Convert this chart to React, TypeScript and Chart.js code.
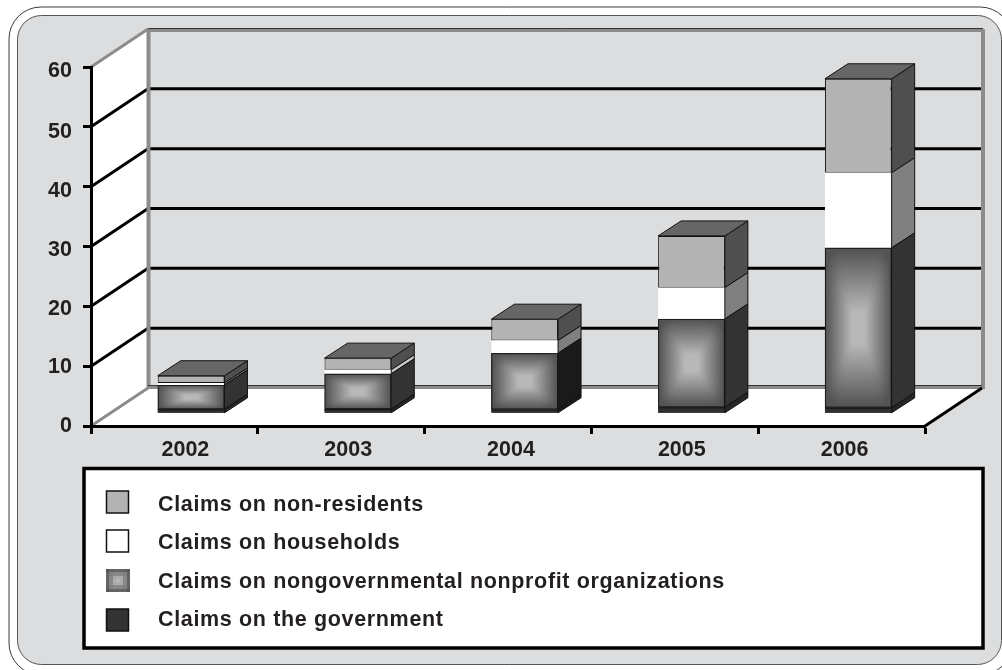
import React, { useEffect, useRef } from "react";
import { Chart, registerables } from "chart.js";

Chart.register(...registerables);

const years = ["2002", "2003", "2004", "2005", "2006"];
const government = [0.67, 0.7, 0.65, 1.0, 0.95];
const nongovernmental = [4.06, 5.9, 9.4, 14.77, 26.7];
const households = [0.33, 0.67, 2.1, 5.23, 12.54];
const nonResidents = [1.22, 1.95, 3.58, 8.65, 15.72];
const yTickMax = 60;
const yTickStep = 10;

const FONT = '"Liberation Sans", Arial, sans-serif';
const TEXT = "#231f20";
const PANEL = "#dcddde";

// 3D projection offsets, in pixels
const WALL_DX = 57;
const WALL_DY = -38;
const BAR_SHIFT_X = 16.7;
const BAR_SHIFT_Y = -12.7;
const BAR_DX = 23;
const BAR_DY = -15;

// small per-label nudges of the axis labels, in pixels
const xLabelNudge = [5, 1, -3, 1, -3];
const yLabelNudge = [0.3, 1, 2.6, 3.6, 4.6, 4.8, 3.8];

const sideColors = [
  ["#262626", "#262626", "#1a1a1a", "#262626", "#262626"],
  ["#333333", "#333333", "#1a1a1a", "#333333", "#333333"],
  ["#808080", "#c8c8c8", "#808080", "#808080", "#808080"],
  ["#4f4f4f", "#4f4f4f", "#4f4f4f", "#4f4f4f", "#4f4f4f"],
];

function boxGradient(w: number, h: number): HTMLCanvasElement {
  const c = document.createElement("canvas");
  c.width = Math.max(1, Math.round(w));
  c.height = Math.max(1, Math.round(h));
  const g = c.getContext("2d")!;
  const img = g.createImageData(c.width, c.height);
  for (let j = 0; j < c.height; j++) {
    for (let i = 0; i < c.width; i++) {
      const tx = Math.abs((i + 0.5) / c.width - 0.5) * 2;
      const ty = Math.abs((j + 0.5) / c.height - 0.5) * 2;
      const t = Math.min(1, Math.pow(Math.pow(tx, 6) + Math.pow(ty, 6), 1 / 6));
      const s = Math.min(1, Math.max(0, (t - 0.2) / 0.78));
      const v = Math.round(184 + (84 - 184) * s);
      const k = (j * c.width + i) * 4;
      img.data[k] = v;
      img.data[k + 1] = v;
      img.data[k + 2] = v;
      img.data[k + 3] = 255;
    }
  }
  g.putImageData(img, 0, 0);
  return c;
}

function roundRectPath(ctx: CanvasRenderingContext2D, x: number, y: number, w: number, h: number, r: number) {
  ctx.beginPath();
  ctx.roundRect(x, y, w, h, r);
}

function line(ctx: CanvasRenderingContext2D, x1: number, y1: number, x2: number, y2: number, color: string, width: number) {
  ctx.strokeStyle = color;
  ctx.lineWidth = width;
  ctx.lineCap = "butt";
  ctx.beginPath();
  ctx.moveTo(x1, y1);
  ctx.lineTo(x2, y2);
  ctx.stroke();
}

function poly(ctx: CanvasRenderingContext2D, pts: number[][], fill: string, stroke?: string) {
  ctx.beginPath();
  pts.forEach((p, i) => (i ? ctx.lineTo(p[0], p[1]) : ctx.moveTo(p[0], p[1])));
  ctx.closePath();
  ctx.fillStyle = fill;
  ctx.fill();
  if (stroke) {
    ctx.strokeStyle = stroke;
    ctx.lineWidth = 1;
    ctx.stroke();
  }
}

function nudgeLabels(scale: any, nudges: number[], axis: 0 | 1) {
  scale.getLabelItems().forEach((item: any, i: number) => {
    if (item.__nudged) return;
    item.__nudged = true;
    item.options.translation[axis] += nudges[i] || 0;
  });
}

const scenePlugin = {
  id: "scene",
  beforeDraw(chart: any) {
    const ctx: CanvasRenderingContext2D = chart.ctx;
    const { x, y } = chart.scales;
    nudgeLabels(x, xLabelNudge, 0);
    nudgeLabels(y, yLabelNudge, 1);
    const left = x.left;
    const right = x.right;
    const y0 = y.getPixelForValue(0);
    const yTop = y.getPixelForValue(yTickMax);

    ctx.save();
    ctx.fillStyle = "#ffffff";
    ctx.fillRect(0, 0, chart.width, chart.height);

    // rounded frame
    roundRectPath(ctx, 9, 7, 1003, 668, 32);
    ctx.strokeStyle = "#3a3a3a";
    ctx.lineWidth = 1;
    ctx.stroke();
    roundRectPath(ctx, 17.5, 15.5, 984, 649, 24);
    ctx.fillStyle = PANEL;
    ctx.fill();
    ctx.strokeStyle = "#555555";
    ctx.lineWidth = 1;
    ctx.stroke();

    // side wall and floor
    poly(ctx, [[left, yTop], [left + WALL_DX, yTop + WALL_DY], [left + WALL_DX, y0 + WALL_DY], [left, y0]], "#ffffff");
    poly(ctx, [[left, y0], [left + WALL_DX, y0 + WALL_DY], [right + WALL_DX, y0 + WALL_DY], [right, y0]], "#ffffff");

    // gridlines on the walls
    for (let v = yTickStep; v < yTickMax; v += yTickStep) {
      const p = y.getPixelForValue(v);
      line(ctx, left, p, left + WALL_DX, p + WALL_DY, "#000000", 3);
      line(ctx, left + WALL_DX, p + WALL_DY, right + WALL_DX, p + WALL_DY, "#000000", 3);
    }

    // wall edges
    const grey = "#8c8c8c";
    line(ctx, left, yTop, left + WALL_DX, yTop + WALL_DY, grey, 3);
    line(ctx, left, y0, left + WALL_DX, y0 + WALL_DY, grey, 3);
    line(ctx, left + WALL_DX + 0.5, yTop + WALL_DY, left + WALL_DX + 0.5, y0 + WALL_DY, grey, 4);
    line(ctx, right + WALL_DX + 1, yTop + WALL_DY, right + WALL_DX + 1, y0 + WALL_DY + 1, grey, 4);
    line(ctx, left + WALL_DX, yTop + WALL_DY + 1.5, right + WALL_DX + 3, yTop + WALL_DY + 1.5, grey, 3);
    line(ctx, left + WALL_DX, y0 + WALL_DY - 0.5, right + WALL_DX + 3, y0 + WALL_DY - 0.5, grey, 3);
    line(ctx, left + WALL_DX, yTop + WALL_DY - 0.5, right + WALL_DX + 1, yTop + WALL_DY - 0.5, "#333333", 1);
    line(ctx, left + WALL_DX, y0 + WALL_DY - 2.5, right + WALL_DX, y0 + WALL_DY - 2.5, "#333333", 1);
    line(ctx, right, y0, right + WALL_DX, y0 + WALL_DY, "#000000", 3);

    // legend
    ctx.fillStyle = "#ffffff";
    ctx.fillRect(84, 468.5, 899, 179.5);
    ctx.strokeStyle = "#000000";
    ctx.lineWidth = 3.5;
    ctx.strokeRect(84, 468.5, 899, 179.5);
    const datasets = chart.data.datasets;
    const swatchRows = [502, 541, 580.5, 620];
    const textRows = [505, 543, 582, 620.5];
    const order = [3, 2, 1, 0];
    ctx.font = `bold 21.5px ${FONT}`;
    (ctx as any).letterSpacing = "0.65px";
    ctx.textBaseline = "middle";
    ctx.textAlign = "left";
    order.forEach((di, r) => {
      const d = datasets[di];
      const sy = swatchRows[r] - 11.5;
      if (di === 1) {
        ctx.imageSmoothingEnabled = false;
        ctx.drawImage(boxGradient(7, 7), 106, sy, 24, 23);
        ctx.imageSmoothingEnabled = true;
      } else {
        ctx.fillStyle = d.backgroundColor;
        ctx.fillRect(106.5, sy + 0.5, 22, 22);
        ctx.strokeStyle = "#111111";
        ctx.lineWidth = 1.5;
        ctx.strokeRect(106.5, sy + 0.5, 22, 22);
      }
      ctx.fillStyle = TEXT;
      ctx.fillText(d.label, 158, textRows[r]);
    });
    (ctx as any).letterSpacing = "0px";
    ctx.restore();
  },
  beforeDatasetsDraw(chart: any) {
    chart.ctx.save();
    chart.ctx.translate(BAR_SHIFT_X, BAR_SHIFT_Y);
  },
  afterDatasetDraw(chart: any, args: any) {
    const ctx: CanvasRenderingContext2D = chart.ctx;
    const di = args.index;
    const meta = chart.getDatasetMeta(di);
    meta.data.forEach((bar: any, i: number) => {
      const b = bar.getProps(["x", "y", "base", "width"], true);
      const l = b.x - b.width / 2;
      const r = b.x + b.width / 2;
      if (di === 1) {
        ctx.drawImage(boxGradient(r - l, b.base - b.y), l, b.y, r - l, b.base - b.y);
        ctx.strokeStyle = "#1a1a1a";
        ctx.lineWidth = 1;
        ctx.strokeRect(l + 0.5, b.y + 0.5, r - l - 1, b.base - b.y - 1);
      }
      if (di === 0) {
        ctx.fillStyle = "#303030";
        ctx.fillRect(l, b.y, r - l, b.base - b.y);
        line(ctx, l, b.y + 0.5, r, b.y + 0.5, "#111111", 1);
      }
      poly(ctx, [[r, b.y], [r + BAR_DX, b.y + BAR_DY], [r + BAR_DX, b.base + BAR_DY], [r, b.base]], sideColors[di][i], "#111111");
      if (di === chart.data.datasets.length - 1) {
        poly(ctx, [[l, b.y], [l + BAR_DX, b.y + BAR_DY], [r + BAR_DX, b.y + BAR_DY], [r, b.y]], "#666666", "#111111");
      }
    });
  },
  afterDatasetsDraw(chart: any) {
    chart.ctx.restore();
  },
};

export default function App() {
  const ref = useRef<HTMLCanvasElement | null>(null);
  useEffect(() => {
    const border = { borderWidth: 1, borderColor: "#111111", borderSkipped: false, barPercentage: 0.4, categoryPercentage: 1, clip: false };
    const tickFont = { family: FONT, size: 21.5, weight: "bold" as const };
    const chart = new Chart(ref.current!, {
      type: "bar",
      data: {
        labels: years,
        datasets: [
          { label: "Claims on the government", data: government, backgroundColor: "#333333", ...border },
          { label: "Claims on nongovernmental nonprofit organizations", data: nongovernmental, backgroundColor: "#808080", ...border },
          { label: "Claims on households", data: households, backgroundColor: "#ffffff", ...border, borderWidth: 0 },
          { label: "Claims on non-residents", data: nonResidents, backgroundColor: "#b3b3b3", ...border },
        ],
      },
      options: {
        responsive: false,
        animation: false,
        layout: { padding: { left: 0, right: 77, top: 67, bottom: 0 } },
        plugins: { legend: { display: false }, tooltip: { enabled: false } },
        scales: {
          x: {
            stacked: true,
            offset: true,
            afterFit: (s: any) => { s.height = 244; },
            grid: { drawOnChartArea: false, offset: true, tickLength: 8, tickWidth: 3, tickColor: "#000000" },
            border: { color: "#000000", width: 3 },
            ticks: { color: TEXT, font: tickFont, padding: 3, labelOffset: 6, maxRotation: 0 },
          },
          y: {
            stacked: true,
            min: 0,
            max: yTickMax,
            afterFit: (s: any) => { s.width = 91; },
            grid: { drawOnChartArea: false, tickLength: 8, tickWidth: 3, tickColor: "#000000" },
            border: { color: "#000000", width: 3 },
            ticks: { stepSize: yTickStep, color: TEXT, font: tickFont, padding: 11 },
          },
        },
      },
      plugins: [scenePlugin],
    } as any);
    return () => chart.destroy();
  }, []);
  return <canvas ref={ref} width={1002} height={670} style={{ position: "fixed", left: 0, top: 0, display: "block" }} />;
}
